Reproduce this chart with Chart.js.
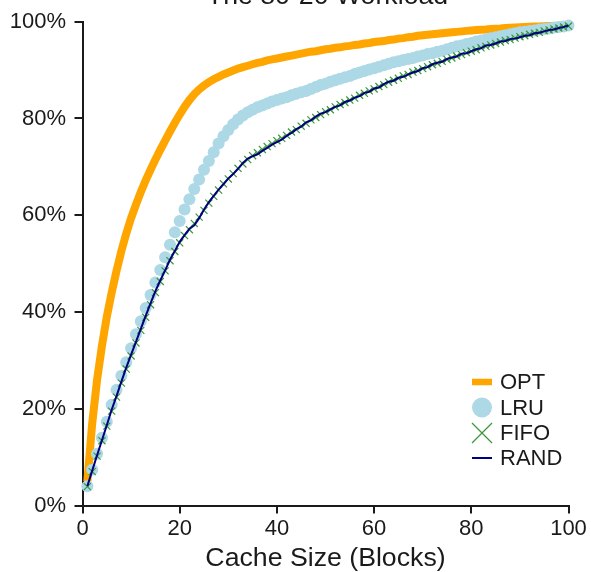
<!DOCTYPE html>
<html>
<head>
<meta charset="utf-8">
<script src="https://cdn.jsdelivr.net/npm/chart.js@4.4.1/dist/chart.umd.min.js"></script>
<style>
  html, body { margin: 0; padding: 0; background: #fff; }
  #chart { display: block; }
</style>
</head>
<body>
<canvas id="chart" width="591" height="572"></canvas>
<script>
// Cache size in blocks (x axis)
const cacheSizes = [
  1, 2, 3, 4, 5, 6, 7, 8, 9, 10,
  11, 12, 13, 14, 15, 16, 17, 18, 19, 20,
  21, 22, 23, 24, 25, 26, 27, 28, 29, 30,
  31, 32, 33, 34, 35, 36, 37, 38, 39, 40,
  41, 42, 43, 44, 45, 46, 47, 48, 49, 50,
  51, 52, 53, 54, 55, 56, 57, 58, 59, 60,
  61, 62, 63, 64, 65, 66, 67, 68, 69, 70,
  71, 72, 73, 74, 75, 76, 77, 78, 79, 80,
  81, 82, 83, 84, 85, 86, 87, 88, 89, 90,
  91, 92, 93, 94, 95, 96, 97, 98, 99, 100
];

// Hit rates in percent, one per cache size
const optHits = [
  5, 17, 26, 33, 39, 44, 48.5, 52.6, 56.2, 59.4,
  62.2, 64.8, 67.2, 69.4, 71.5, 73.5, 75.4, 77.3, 79.1, 80.8,
  82.4, 83.8, 85.0, 86.0, 86.8, 87.5, 88.1, 88.6, 89.1, 89.5,
  89.9, 90.3, 90.6, 90.9, 91.2, 91.5, 91.7, 92.0, 92.2, 92.4,
  92.6, 92.8, 93.0, 93.2, 93.4, 93.6, 93.8, 93.9, 94.1, 94.3,
  94.4, 94.6, 94.7, 94.9, 95.0, 95.2, 95.3, 95.5, 95.6, 95.8,
  95.9, 96.0, 96.2, 96.3, 96.5, 96.6, 96.8, 96.9, 97.1, 97.2,
  97.3, 97.4, 97.5, 97.6, 97.7, 97.8, 97.9, 98.0, 98.1, 98.2,
  98.3, 98.35, 98.4, 98.5, 98.55, 98.6, 98.7, 98.75, 98.8, 98.85,
  98.9, 98.95, 99.0, 99.0, 99.05, 99.1, 99.1, 99.15, 99.2, 99.2
];

const lruHits = [
  4, 7.4, 10.7, 14, 17.3, 20.8, 23.9, 26.8, 29.6, 32.5,
  35.4, 38.1, 40.8, 43.5, 46.1, 48.7, 51.3, 53.9, 56.5, 58.8,
  61.2, 63.3, 65.4, 67.4, 69.4, 71.2, 73.0, 74.8, 76.3, 77.6,
  78.8, 79.8, 80.6, 81.3, 81.8, 82.3, 82.7, 83.1, 83.5, 83.8,
  84.1, 84.4, 84.8, 85.1, 85.4, 85.7, 86.1, 86.5, 86.9, 87.2,
  87.6, 87.9, 88.2, 88.5, 88.8, 89.2, 89.5, 89.8, 90.1, 90.4,
  90.7, 91.0, 91.3, 91.6, 91.8, 92.1, 92.3, 92.5, 92.8, 93.0,
  93.3, 93.5, 93.8, 94.0, 94.3, 94.6, 94.9, 95.1, 95.4, 95.6,
  95.9, 96.1, 96.3, 96.6, 96.8, 97.0, 97.2, 97.4, 97.6, 97.8,
  97.9, 98.1, 98.2, 98.4, 98.5, 98.6, 98.8, 98.9, 99.0, 99.2
];

const fifoHits = [
  3.9, 7.0, 10.2, 13.4, 16.4, 19.5, 22.4, 25.3, 28.2, 30.9,
  33.6, 36.2, 38.9, 41.5, 44.0, 46.3, 48.5, 50.6, 52.5, 54.3,
  55.8, 57.0, 58.3, 59.6, 61.0, 62.5, 63.9, 65.2, 66.5, 67.5,
  68.6, 69.7, 70.6, 71.5, 72.3, 72.9, 73.6, 74.2, 74.8, 75.4,
  75.9, 76.5, 77.2, 77.7, 78.4, 79.0, 79.7, 80.2, 80.8, 81.4,
  81.8, 82.4, 82.9, 83.3, 83.8, 84.2, 84.8, 85.2, 85.7, 86.1,
  86.6, 87.0, 87.5, 87.9, 88.3, 88.8, 89.1, 89.6, 89.9, 90.3,
  90.7, 91.1, 91.4, 91.8, 92.2, 92.5, 92.9, 93.2, 93.6, 93.9,
  94.2, 94.6, 94.9, 95.2, 95.5, 95.8, 96.1, 96.3, 96.6, 96.9,
  97.1, 97.4, 97.6, 97.8, 98.1, 98.3, 98.5, 98.7, 98.9, 99.1
];

const randHits = [
  4, 7.2, 10.4, 13.5, 16.6, 19.8, 22.6, 25.6, 28.5, 31.2,
  33.8, 36.5, 39.2, 41.8, 44.3, 46.5, 48.6, 50.8, 52.6, 54.5,
  55.9, 57.2, 57.9, 59.4, 61.2, 62.7, 64.0, 65.3, 66.4, 67.6,
  68.5, 69.6, 70.8, 71.7, 72.2, 72.6, 73.3, 73.9, 74.6, 75.1,
  75.6, 76.4, 77.0, 77.8, 78.3, 79.2, 79.6, 80.4, 81.0, 81.3,
  81.9, 82.4, 82.7, 83.4, 83.7, 84.3, 84.6, 85.3, 85.5, 86.2,
  86.4, 87.1, 87.6, 87.8, 88.4, 88.6, 89.1, 89.5, 89.8, 90.4,
  90.6, 91.2, 91.5, 91.7, 92.3, 92.6, 92.8, 93.4, 93.5, 93.9,
  94.3, 94.5, 95.1, 95.2, 95.5, 95.9, 96.0, 96.4, 96.5, 96.8,
  97.1, 97.2, 97.6, 97.7, 98.0, 98.3, 98.4, 98.7, 98.9, 99.2
];

const xTicks = [0, 20, 40, 60, 80, 100];
const yTicks = [0, 20, 40, 60, 80, 100];

const chartTitle = 'The 80-20 Workload';
const xTitle = 'Cache Size (Blocks)';

const FONT = "'Liberation Sans', Arial, Helvetica, sans-serif";
const INK = '#1a1a1a';

function toPoints(values) {
  return cacheSizes.map((c, i) => ({ x: c, y: values[i] }));
}

// Title sits mostly above the canvas edge, like in the original figure
const titlePlugin = {
  id: 'cutTitle',
  afterDraw(chart) {
    const { ctx, chartArea } = chart;
    ctx.save();
    ctx.font = '26.7px ' + FONT;
    ctx.fillStyle = INK;
    ctx.textAlign = 'center';
    ctx.textBaseline = 'alphabetic';
    ctx.fillText(chartTitle, (chartArea.left + chartArea.right) / 2 + 2, 4);
    ctx.restore();
  }
};

// Legend inside the plot, lower right
const legendPlugin = {
  id: 'insideLegend',
  afterDraw(chart) {
    const ctx = chart.ctx;
    const ds = chart.data.datasets;
    const cx = 482;
    const textX = 500;
    const rows = [382, 407.5, 433, 458];
    ctx.save();

    // OPT: thick line
    ctx.strokeStyle = ds[0].borderColor;
    ctx.lineWidth = 6.5;
    ctx.beginPath();
    ctx.moveTo(cx - 10, rows[0]);
    ctx.lineTo(cx + 10, rows[0]);
    ctx.stroke();

    // LRU: big dot
    ctx.fillStyle = ds[1].backgroundColor;
    ctx.beginPath();
    ctx.arc(cx, rows[1], 10, 0, Math.PI * 2);
    ctx.fill();

    // FIFO: cross
    ctx.strokeStyle = ds[2].borderColor;
    ctx.lineWidth = 1.2;
    ctx.beginPath();
    ctx.moveTo(cx - 10, rows[2] - 10);
    ctx.lineTo(cx + 10, rows[2] + 10);
    ctx.moveTo(cx - 10, rows[2] + 10);
    ctx.lineTo(cx + 10, rows[2] - 10);
    ctx.stroke();

    // RAND: thin line
    ctx.strokeStyle = ds[3].borderColor;
    ctx.lineWidth = 2;
    ctx.beginPath();
    ctx.moveTo(cx - 10, rows[3]);
    ctx.lineTo(cx + 10, rows[3]);
    ctx.stroke();

    ctx.font = '22px ' + FONT;
    ctx.fillStyle = INK;
    ctx.textAlign = 'left';
    ctx.textBaseline = 'middle';
    ds.forEach((d, i) => ctx.fillText(d.label, textX, rows[i] + 1));
    ctx.restore();
  }
};

new Chart(document.getElementById('chart'), {
  type: 'scatter',
  data: {
    datasets: [
      {
        label: 'OPT',
        data: toPoints(optHits),
        showLine: true,
        borderColor: '#ffa500',
        backgroundColor: '#ffa500',
        borderWidth: 8,
        borderCapStyle: 'butt',
        pointRadius: 0,
        order: 4,
        clip: false
      },
      {
        label: 'LRU',
        data: toPoints(lruHits),
        showLine: false,
        backgroundColor: '#add8e6',
        borderColor: '#add8e6',
        pointStyle: 'circle',
        pointRadius: 6,
        pointBorderWidth: 0,
        order: 3,
        clip: false
      },
      {
        label: 'FIFO',
        data: toPoints(fifoHits),
        showLine: false,
        backgroundColor: '#389838',
        borderColor: '#389838',
        pointStyle: 'crossRot',
        pointRadius: 5,
        pointBorderWidth: 1.2,
        order: 2,
        clip: false
      },
      {
        label: 'RAND',
        data: toPoints(randHits),
        showLine: true,
        borderColor: '#00007f',
        backgroundColor: '#00007f',
        borderWidth: 2,
        pointRadius: 0,
        order: 1,
        clip: false
      }
    ]
  },
  options: {
    responsive: false,
    animation: false,
    events: [],
    layout: { padding: { top: 19.3, right: 22.5, left: 0, bottom: 0 } },
    plugins: {
      legend: { display: false },
      tooltip: { enabled: false },
      title: { display: false }
    },
    scales: {
      x: {
        type: 'linear',
        min: 0,
        max: 100,
        afterBuildTicks: s => { s.ticks = xTicks.map(v => ({ value: v })); },
        afterFit: s => { s.height = 66.5; },
        grid: { drawOnChartArea: false, drawTicks: true, tickLength: 8, color: INK, lineWidth: 2 },
        border: { display: true, color: INK, width: 2 },
        ticks: { color: INK, font: { family: FONT, size: 22 }, padding: 2.5, maxRotation: 0 },
        title: {
          display: true,
          text: xTitle,
          color: INK,
          font: { family: FONT, size: 26.7, lineHeight: 1 },
          padding: { top: 0, bottom: 0 }
        }
      },
      y: {
        type: 'linear',
        min: 0,
        max: 100,
        afterBuildTicks: s => { s.ticks = yTicks.map(v => ({ value: v })); },
        afterFit: s => { s.width = 82.5; },
        grid: { drawOnChartArea: false, drawTicks: true, tickLength: 8, color: INK, lineWidth: 2 },
        border: { display: true, color: INK, width: 2 },
        ticks: {
          color: INK,
          font: { family: FONT, size: 22 },
          padding: 8.5,
          callback: v => v + '%'
        }
      }
    }
  },
  plugins: [titlePlugin, legendPlugin]
});
</script>
</body>
</html>
